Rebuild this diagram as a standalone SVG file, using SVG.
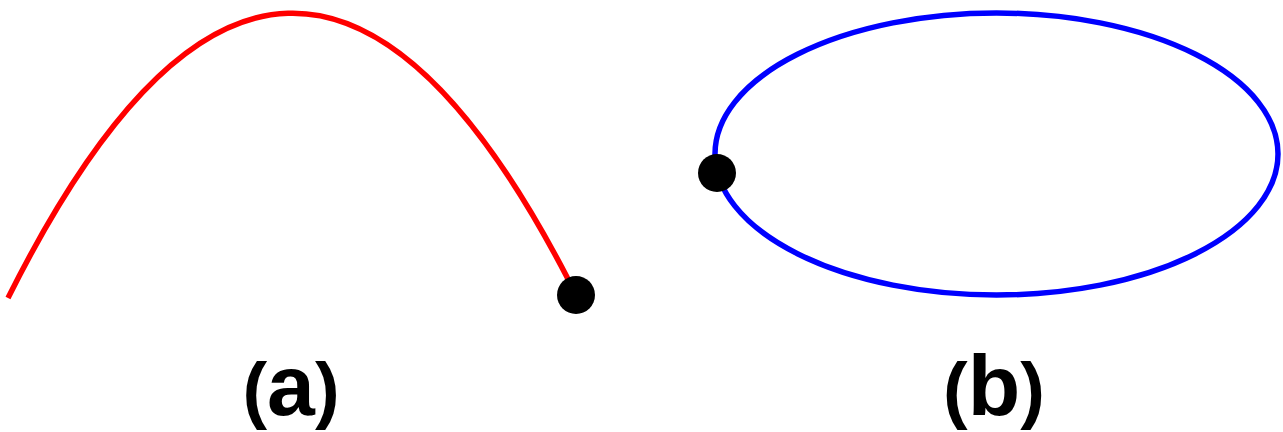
<svg xmlns="http://www.w3.org/2000/svg" width="1283" height="432" viewBox="0 0 1283 432">
<style>
.lbl{font-family:"Liberation Sans",Arial,sans-serif;font-weight:bold;font-size:74px;fill:#000;text-anchor:middle}
.ch{font-size:86px}
.dot{fill:#000}
</style>
<rect width="1283" height="432" fill="#fff"/>
<g id="curve-a">
<path d="M8,298 Q288,-262 568,279" fill="none" stroke="#ff0000" stroke-width="5.5"/>
<circle class="dot" cx="576" cy="295" r="19"/>
<text class="lbl" x="291" y="415">(<tspan class="ch">a</tspan>)</text>
</g>
<g id="ellipse-b">
<ellipse cx="996.5" cy="154" rx="281.5" ry="141" fill="none" stroke="#0000ff" stroke-width="5.5"/>
<circle class="dot" cx="717" cy="173" r="19"/>
<text class="lbl" x="994" y="415">(<tspan class="ch">b</tspan>)</text>
</g>
<g id="connectors"/>
</svg>
